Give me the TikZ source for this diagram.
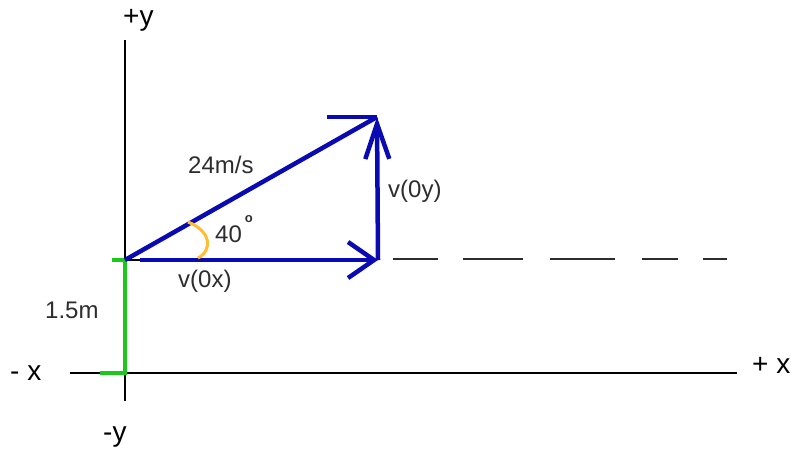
\documentclass[tikz,border=0pt]{standalone}
\usepackage{fontspec}
\setmainfont{Liberation Sans}
\usetikzlibrary{arrows.meta}
\definecolor{VecBlue}{RGB}{10,10,178}
\definecolor{HeightGreen}{RGB}{25,200,25}
\definecolor{AngleOrange}{RGB}{255,190,50}
\definecolor{LabelGray}{RGB}{45,45,45}

\begin{document}
\begin{tikzpicture}[x=1pt, y=-1pt,
    axis/.style={line width=1.3pt, black},
    dashline/.style={line width=1.5pt, LabelGray},
    vec/.style={line width=4.5pt, VecBlue},
    hgt/.style={line width=4pt, HeightGreen},
    ang/.style={line width=3pt, AngleOrange},
    lbl/.style={inner sep=0pt, anchor=base west, text=LabelGray, font=\fontsize{24}{28}\selectfont},
    axlbl/.style={inner sep=0pt, anchor=base west, font=\fontsize{28}{32}\selectfont}]
    \useasboundingbox (0,0) rectangle (791,453);
    % Points
    \coordinate (O) at (125,260);
    \coordinate (Hs) at (140,260);
    \coordinate (A) at (377,117);
    \coordinate (B) at (378,260);
    \coordinate (G) at (125,373);
    \coordinate (xl) at (70,373);
    \coordinate (xr) at (737,373);
    \coordinate (yt) at (125,40);
    \coordinate (yb) at (125,401);

    % Axes
    \draw[axis] (xl) -- (xr);
    \draw[axis] (yt) -- (yb);
    \draw[axis] (O) -- (Hs);
    \node[axlbl] (py) at (123,25) {+y};
    \node[axlbl] (my) at (103,441) {-y};
    \node[axlbl] (mx) at (10,380) {- x};
    \node[axlbl] (px) at (752,373) {+ x};

    % Dashed horizontal through launch point
    \foreach \a/\b in {393/438, 463/523, 550/615, 642/678, 703/727}
        \draw[dashline] (\a,259) -- (\b,259);

    % Launch height
    \draw[hgt] (112,260) -- (O);
    \draw[hgt] (O) -- (G) -- (100,373);
    \node[lbl] (h) at (45,318) {1.5m};

    % Velocity vectors
    \draw[vec] (O) -- (A);
    \draw[vec] (A) -- ++(-50,0);
    \draw[vec, -{Straight Barb[length=35pt, width=24pt]}] (B) -- (A);
    \draw[vec, -{Straight Barb[length=26pt, width=36pt]}] (Hs) -- (B);
    \node[lbl] (v) at (188,173) {24m/s};
    \node[lbl] (vy) at (388,197) {v(0y)};
    \node[lbl] (vx) at (178,287) {v(0x)};

    % Angle
    \draw[ang] (188,222) .. controls (211,231) and (213,250) .. (198,258);
    \node[lbl] (th) at (215,242) {40\kern3pt\raisebox{20pt}{\fontsize{13}{13}\selectfont\textbf{o}}};
\end{tikzpicture}
\end{document}
